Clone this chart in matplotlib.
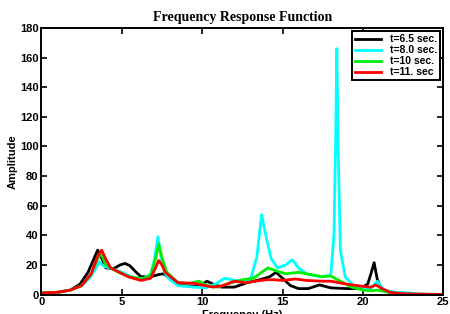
import numpy as np
import matplotlib
matplotlib.use("Agg")
import matplotlib.pyplot as plt

# frequency (Hz) / amplitude
f_65 = [0, 1, 1.8, 2.4, 2.9, 3.3, 3.5, 3.7, 4.0, 4.5, 4.9, 5.2, 5.5, 5.9, 6.2, 6.8, 7.3, 7.6, 8.0, 8.5, 9.2, 9.8, 10.3, 10.7, 11.2, 12.0,
        12.8, 13.6, 14.2, 14.6, 15.0, 15.5, 16.0, 16.6, 17.3, 18.0, 19.0, 19.8, 20.3, 20.5, 20.7, 20.9, 21.2, 21.7, 22.5, 23.2, 25]
a_65 = [1, 1.5, 3, 7, 15, 25, 30, 26, 18, 17.5, 20, 21, 19.5, 15, 12, 12, 13.5, 14, 11, 7, 5.5, 5.5, 9, 7, 5, 5,
        8, 10, 12, 15, 11, 6, 4, 4, 6.5, 4.5, 4, 4, 7, 14, 21.5, 10, 3, 1.5, 0.5, 0.2, 0]

f_80 = [0, 1, 1.8, 2.5, 3.0, 3.4, 3.6, 3.9, 4.5, 5.0, 5.8, 6.4, 6.8, 7.0, 7.25, 7.45, 7.7, 8.0, 8.5, 9.5, 10.2, 10.8, 11.4, 12.3, 13.0,
        13.4, 13.7, 14.0, 14.3, 14.7, 15.2, 15.6, 16.0, 16.5, 17.3, 18.0, 18.2, 18.3, 18.38, 18.46, 18.6, 18.9, 19.4, 20.0, 20.5, 20.9,
        21.3, 22.0, 23.0, 23.5, 25]
a_80 = [1, 1.5, 3, 6, 11, 18, 22, 19, 17, 15, 11, 11, 14, 22, 39, 25, 14, 10, 6, 5, 4.5, 7, 11, 9, 10,
        25, 54, 38, 24, 18, 20, 23.5, 18, 14, 12, 13, 40, 100, 166, 100, 30, 12, 6, 5, 4, 9,
        3, 1.5, 1, 0.3, 0]

f_10 = [0, 1, 1.8, 2.5, 3.1, 3.5, 3.7, 4.0, 4.8, 5.5, 6.3, 6.8, 7.1, 7.3, 7.5, 7.8, 8.5, 9.2, 9.8, 10.3, 11.0, 11.8, 12.5, 13.2, 13.7,
        14.1, 14.6, 15.2, 16.0, 17.0, 17.5, 18.0, 18.6, 19.3, 20.0, 20.5, 20.9, 21.4, 22.0, 23.0, 25]
a_10 = [1, 1.5, 3, 6, 14, 24, 28, 20, 15, 12, 10.5, 13, 24, 34, 25, 15, 8, 7.5, 9, 6, 5, 8, 10, 11, 15,
        18, 16, 14, 15, 13, 12, 12.5, 9, 5, 3, 2.5, 3, 2, 0.5, 0.1, 0]

f_11 = [0, 1, 1.8, 2.5, 3.1, 3.5, 3.75, 4.0, 4.3, 5.4, 6.2, 6.8, 7.1, 7.3, 7.5, 7.7, 8.5, 9.5, 10.2, 10.7, 11.3, 12.0, 12.7, 13.3, 14.0,
        14.5, 15.0, 15.8, 16.5, 17.5, 18.0, 19.0, 20.0, 20.5, 20.8, 21.2, 21.7, 22.5, 25]
a_11 = [1, 1.5, 3, 6, 14, 26, 30, 24, 18, 12, 9.5, 11, 18, 23, 20, 15, 8, 7.5, 6, 5, 6, 9, 8, 9, 10,
        10, 9.5, 10.5, 9.5, 9, 9, 7, 5.5, 5, 6.5, 4, 1.5, 0.5, 0]

labels = ['t=6.5 sec.', 't=8.0 sec.', 't=10 sec.', 't=11. sec']
colors = ['k', 'cyan', '#00ee00', 'red']

plt.rcParams['font.family'] = ['Liberation Sans', 'DejaVu Sans']
fig = plt.figure(figsize=(4.5, 3.14), dpi=100)
ax = fig.add_axes([0.092, 0.062, 0.893, 0.849])

for f, a, lab, c in zip([f_65, f_80, f_10, f_11], [a_65, a_80, a_10, a_11], labels, colors):
    ax.plot(f, a, color=c, lw=2, label=lab)

ax.set_xlim(0, 25)
ax.set_ylim(0, 180)
ax.set_xticks([0, 5, 10, 15, 20, 25])
ax.set_yticks(np.arange(0, 181, 20))
ax.tick_params(direction='in', top=True, right=True, length=4, width=1.2, labelsize=8, pad=2)
for lab in ax.get_xticklabels() + ax.get_yticklabels():
    lab.set_fontweight('bold')
for s in ax.spines.values():
    s.set_linewidth(1.4)

ax.set_title('Frequency Response Function', fontfamily='Liberation Serif', fontweight='bold', fontsize=10, pad=5)
ax.set_ylabel('Amplitude', fontweight='bold', fontsize=8, labelpad=2)
ax.set_xlabel('Frequency (Hz)', fontweight='bold', fontsize=8, labelpad=2)

leg = ax.legend(loc='upper right', prop={'weight': 'bold', 'size': 7.5}, fancybox=False,
                framealpha=1, edgecolor='k', handlelength=2.5, borderaxespad=0.3, labelspacing=0.1,
                borderpad=0.3)
leg.get_frame().set_linewidth(1.4)

plt.savefig('out.png', dpi=100)
